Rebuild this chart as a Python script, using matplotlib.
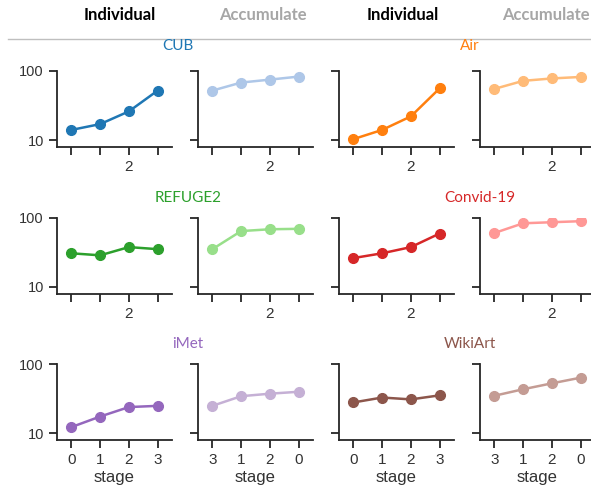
import numpy as np
import matplotlib
matplotlib.use('Agg')
import matplotlib.pyplot as plt

# data (log scale, per stage)
ind_stages = ['0', '1', '2', '3']
acc_stages = ['3', '1', '2', '0']

cub_ind = [14, 17, 26, 52]
cub_acc = [52, 68, 75, 83]
air_ind = [10.3, 14, 22, 56]
air_acc = [55, 72, 78, 82]
refuge_ind = [30.5, 28.5, 37.5, 35]
refuge_acc = [35, 64, 68, 69]
covid_ind = [26, 30.5, 37.5, 59]
covid_acc = [60, 83, 86, 89]
imet_ind = [12.3, 17.5, 24, 25]
imet_acc = [25, 34.5, 37.5, 40]
wiki_ind = [28, 33, 31, 35.5]
wiki_acc = [35, 43.5, 53, 64]

# (name, individual, accumulate, dark colour, light colour, row, pair)
panels = [
    ('CUB', cub_ind, cub_acc, '#1f77b4', '#aec7e8', 0, 0),
    ('Air', air_ind, air_acc, '#ff7f0e', '#ffbb78', 0, 1),
    ('REFUGE2', refuge_ind, refuge_acc, '#2ca02c', '#98df8a', 1, 0),
    ('Convid-19', covid_ind, covid_acc, '#d62728', '#ff9896', 1, 1),
    ('iMet', imet_ind, imet_acc, '#9467bd', '#c5b0d5', 2, 0),
    ('WikiArt', wiki_ind, wiki_acc, '#8c564b', '#c49c94', 2, 1),
]

W, H = 591, 497
fig = plt.figure(figsize=(W / 100, H / 100), dpi=100)

col_left = [57, 198, 339, 480]
row_top = [71, 217.7, 364.3]
ax_w, ax_h = 115, 76
title_pos = {'CUB': (178, 46), 'Air': (470, 46), 'REFUGE2': (188, 198),
             'Convid-19': (480, 198), 'iMet': (188, 344), 'WikiArt': (470, 344)}

tick_font = 'Liberation Sans'
head_font = 'Lato'
spine_c = '#262626'


def fx(x):
    return x / W


def fy(y):
    return 1 - y / H


for name, ind, acc, dark, light, row, pair in panels:
    for k, (vals, col, labels) in enumerate([(ind, dark, ind_stages), (acc, light, acc_stages)]):
        c = pair * 2 + k
        ax = fig.add_axes([fx(col_left[c]), fy(row_top[row] + ax_h), ax_w / W, ax_h / H])
        xs = np.arange(len(vals))
        ax.plot(xs, vals, color=col, lw=1.8, marker='o', ms=7, mec=col, mfc=col)
        ax.set_yscale('log')
        ax.set_ylim(7.92, 100)
        ax.set_xlim(-0.5, 3.5)
        ax.set_yticks([10, 100])
        ax.yaxis.set_minor_locator(matplotlib.ticker.NullLocator())
        ax.set_xticks(xs)
        if row == 2:
            ax.set_xticklabels(labels, fontfamily=tick_font, fontsize=11)
            ax.set_xlabel('stage', fontfamily=tick_font, fontsize=12, color='#333333', labelpad=2)
        else:
            ax.set_xticklabels([l if i == 2 else '' for i, l in enumerate(ind_stages)],
                               fontfamily=tick_font, fontsize=11)
        if c == 0:
            ax.set_yticklabels(['10', '100'], fontfamily=tick_font, fontsize=10.5)
        else:
            ax.set_yticklabels([])
        for s in ['top', 'right']:
            ax.spines[s].set_visible(False)
        for s in ['left', 'bottom']:
            ax.spines[s].set_color(spine_c)
            ax.spines[s].set_linewidth(1.3)
        ax.tick_params(length=6, width=1.3, color=spine_c, labelcolor='#333333', pad=3.5)
        ax.patch.set_alpha(0)
    tx, ty = title_pos[name]
    fig.text(fx(tx), fy(ty), name, color=dark, fontfamily=head_font, fontsize=11,
             ha='center', va='center')

# column headers
for x, lab, c in [(120, 'Individual', 'black'), (263, 'Accumulate', '#a6a6a6'),
                  (403, 'Individual', 'black'), (546, 'Accumulate', '#a6a6a6')]:
    fig.text(fx(x), fy(15), lab, color=c, fontfamily=head_font, fontweight='bold',
             fontsize=12, ha='center', va='center')

fig.add_artist(plt.Line2D([fx(8), 1], [fy(39), fy(39)], color='#bfbfbf', lw=1))

fig.savefig('out.png', dpi=100)
